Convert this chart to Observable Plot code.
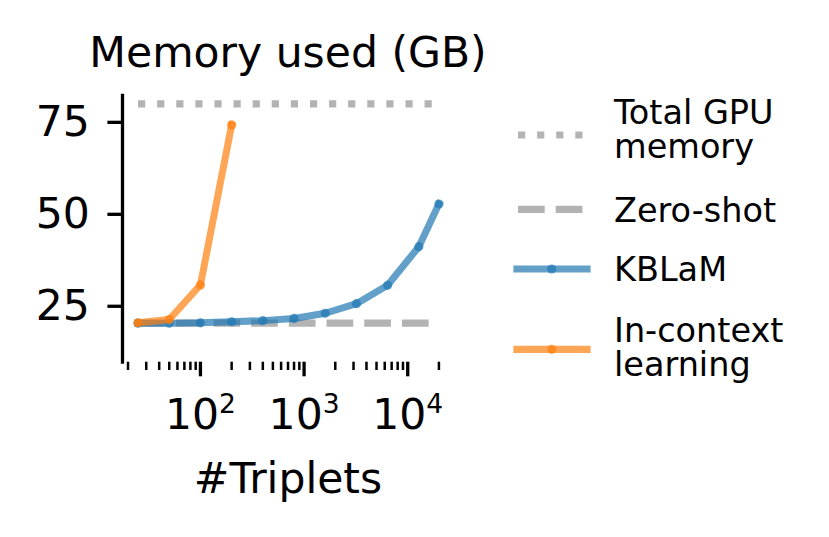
<!DOCTYPE html>
<html><head><meta charset="utf-8">
<script src="https://cdn.jsdelivr.net/npm/d3@7"></script>
<script src="https://cdn.jsdelivr.net/npm/@observablehq/plot@0.6"></script>
<style>
body{margin:0;background:#fff;}
#chart{width:829px;height:537px;}
</style>
</head><body><div id="chart"></div>
<script>
// ---- data ----
const triplets = [25, 50, 100, 200, 400, 800, 1600, 3200, 6400, 12800, 20000];
const kblamMemory = [20.4, 20.4, 20.5, 20.8, 21.1, 21.7, 23.1, 25.7, 30.7, 41.2, 52.8];
const iclTriplets = [25, 50, 100, 200];
const iclMemory = [20.5, 21.4, 30.8, 74.3];
const totalGpuMemory = 80;
const zeroShotMemory = 20.4;
const yTicks = [25, 50, 75];
const xMajorTicks = [100, 1000, 10000];
const xMinorTicks = [20, 30, 40, 50, 60, 70, 80, 90, 200, 300, 400, 500, 600, 700, 800, 900,
  2000, 3000, 4000, 5000, 6000, 7000, 8000, 9000, 20000];
const legendLabels = [["Total GPU", "memory"], ["Zero-shot"], ["KBLaM"], ["In-context", "learning"]];
const titleText = "Memory used (GB)";
const xLabelText = "#Triplets";

// ---- styles ----
const FONT = "DejaVu Sans";
const FS = 42.5;
const GRAY = "#b3b3b3";
const BLUE = "#1f77b4";
const ORANGE = "#ff7f0e";
const LW = 7.0;
const DOTTED = "7.2,11.9";
const DASHED = "26.7,11";

const kblam = triplets.map((t, i) => ({x: t, y: kblamMemory[i]}));
const icl = iclTriplets.map((t, i) => ({x: t, y: iclMemory[i]}));
const span = [triplets[0], triplets[triplets.length - 1]];
const totalLine = span.map(x => ({x, y: totalGpuMemory}));
const zeroLine = span.map(x => ({x, y: zeroShotMemory}));

const plot = Plot.plot({
  width: 829, height: 537,
  marginLeft: 122, marginRight: 375.6, marginTop: 95, marginBottom: 175.3,
  style: {fontFamily: FONT, fontSize: FS + "px", color: "#000", background: "#fff", overflow: "visible"},
  x: {type: "log", domain: [17.7, 27900]},
  y: {domain: [9.8, 82.3]},
  marks: [
    Plot.frame({anchor: "left", stroke: "#000", strokeWidth: 3.3}),
    Plot.axisY({ticks: yTicks, tickSize: 14.6, tickPadding: 18, label: null, strokeWidth: 3.3, fontSize: FS, tickFormat: d => String(d)}),
    Plot.axisX({ticks: xMinorTicks, tickSize: 8.3, tickFormat: () => "", label: null, strokeWidth: 2.5}),
    Plot.axisX({ticks: xMajorTicks, tickSize: 14.6, tickPadding: 22, tickFormat: () => "10", label: null, strokeWidth: 3.3, fontSize: FS}),
    Plot.line(totalLine, {x: "x", y: "y", stroke: GRAY, strokeWidth: 7.2, strokeDasharray: DOTTED, strokeLinecap: "butt"}),
    Plot.line(zeroLine, {x: "x", y: "y", stroke: GRAY, strokeWidth: 7.2, strokeDasharray: DASHED, strokeLinecap: "butt"}),
    Plot.line(kblam, {x: "x", y: "y", stroke: BLUE, strokeOpacity: 0.7, strokeWidth: LW, strokeLinecap: "square", strokeLinejoin: "round"}),
    Plot.dot(kblam, {x: "x", y: "y", fill: BLUE, fillOpacity: 0.7, r: 4.6}),
    Plot.line(icl, {x: "x", y: "y", stroke: ORANGE, strokeOpacity: 0.7, strokeWidth: LW, strokeLinecap: "square", strokeLinejoin: "round"}),
    Plot.dot(icl, {x: "x", y: "y", fill: ORANGE, fillOpacity: 0.7, r: 4.6})
  ]
});
document.getElementById("chart").appendChild(plot);

const svg = d3.select(plot);

// superscript exponents on the major x tick labels
svg.selectAll('g[aria-label="x-axis tick label"] text')
  .filter(function() { return this.textContent === "10"; })
  .each(function(_, i) {
    const exp = Math.round(Math.log10(xMajorTicks[i]));
    d3.select(this).append("tspan").attr("dy", "-16").attr("font-size", "26.5px").text(String(exp));
  });

// title and axis label
svg.append("text").attr("x", 288).attr("y", 67.3).attr("text-anchor", "middle")
  .attr("font-family", FONT).attr("font-size", FS + "px").attr("fill", "#000").text(titleText);
svg.append("text").attr("x", 288).attr("y", 493.3).attr("text-anchor", "middle")
  .attr("font-family", FONT).attr("font-size", FS + "px").attr("fill", "#000").text(xLabelText);

// legend
const legendStyles = [
  {stroke: GRAY, dash: DOTTED, opacity: 1, marker: false, sy: 135, by: 124.3},
  {stroke: GRAY, dash: DASHED, opacity: 1, marker: false, sy: 209.3, by: 221.7},
  {stroke: BLUE, dash: null, opacity: 0.7, marker: true, sy: 269, by: 281},
  {stroke: ORANGE, dash: null, opacity: 0.7, marker: true, sy: 349.3, by: 342.3}
];
const lg = svg.append("g").attr("font-family", FONT).attr("font-size", "33.5px").attr("text-anchor", "start");
legendLabels.forEach((lines, i) => {
  const s = legendStyles[i];
  const ln = lg.append("line").attr("x1", s.dash ? 518 : 517).attr("x2", s.dash ? 590 : 587)
    .attr("y1", s.sy).attr("y2", s.sy)
    .attr("stroke", s.stroke).attr("stroke-width", 7.2).attr("stroke-opacity", s.opacity);
  if (s.dash) ln.attr("stroke-dasharray", s.dash).attr("stroke-linecap", "butt");
  else ln.attr("stroke-linecap", "square");
  if (s.marker) lg.append("circle").attr("cx", 551.7).attr("cy", s.sy).attr("r", 4.6)
    .attr("fill", s.stroke).attr("fill-opacity", 0.7);
  lines.forEach((t, j) => {
    lg.append("text").attr("x", 614).attr("y", s.by + j * 34).attr("text-anchor", "start").attr("fill", "#000").text(t);
  });
});
</script>
</body></html>
